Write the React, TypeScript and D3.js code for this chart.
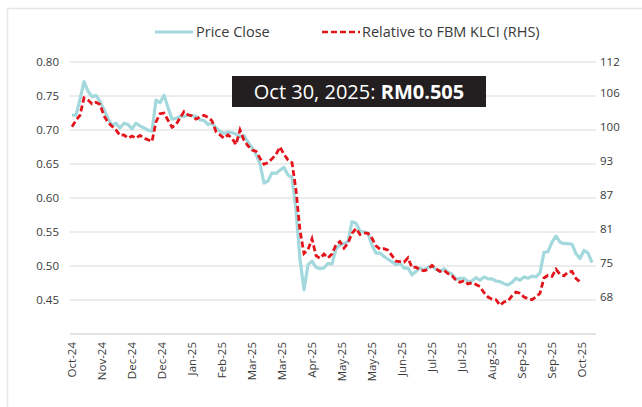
import React from "react";
import * as d3 from "d3";

const W = 642;
const H = 407;

// Price close (LHS), sampled every 2 trading days
const priceClose = [
  0.722, 0.722, 0.745, 0.771, 0.757, 0.749, 0.751, 0.742, 0.730, 0.717,
  0.707, 0.710, 0.703, 0.710, 0.708, 0.702, 0.710, 0.706, 0.703, 0.700,
  0.698, 0.744, 0.740, 0.751, 0.733, 0.716, 0.717, 0.720, 0.720, 0.722,
  0.721, 0.720, 0.715, 0.714, 0.708, 0.710, 0.703, 0.698, 0.695, 0.697,
  0.696, 0.694, 0.690, 0.692, 0.682, 0.674, 0.664, 0.650, 0.622, 0.625,
  0.637, 0.636, 0.641, 0.645, 0.634, 0.630, 0.582, 0.510, 0.465, 0.502,
  0.507, 0.498, 0.496, 0.497, 0.504, 0.503, 0.525, 0.531, 0.533, 0.536,
  0.565, 0.563, 0.551, 0.550, 0.548, 0.530, 0.519, 0.519, 0.514, 0.510,
  0.506, 0.502, 0.504, 0.497, 0.497, 0.487, 0.492, 0.497, 0.494, 0.498,
  0.500, 0.495, 0.492, 0.496, 0.491, 0.488, 0.480, 0.482, 0.482, 0.477,
  0.478, 0.483, 0.479, 0.484, 0.481, 0.481, 0.478, 0.477, 0.474, 0.472,
  0.476, 0.482, 0.479, 0.484, 0.482, 0.485, 0.484, 0.490, 0.520, 0.521,
  0.535, 0.544, 0.535, 0.533, 0.533, 0.532, 0.518, 0.511, 0.523, 0.519,
  0.505,
];

// Relative to FBM KLCI (RHS), sampled every 2 trading days
const relativeKlci = [
  100.1, 101.3, 102.2, 105.4, 105.0, 104.3, 104.6, 104.2, 102.1, 100.9,
  100.2, 99.5, 98.5, 98.6, 98.0, 98.4, 98.0, 98.5, 98.0, 97.7,
  97.4, 101.0, 102.5, 102.6, 101.3, 100.0, 100.5, 101.7, 102.9, 102.3,
  102.1, 101.5, 101.9, 102.2, 101.8, 101.2, 99.2, 98.6, 98.0, 98.6,
  98.0, 96.8, 99.5, 97.6, 96.6, 95.8, 95.6, 94.3, 93.2, 93.5,
  94.2, 95.0, 96.4, 95.0, 94.0, 93.5, 88.5, 81.0, 76.8, 77.5,
  79.5, 76.4, 75.9, 76.7, 76.0, 76.7, 78.4, 79.0, 77.8, 78.7,
  80.5, 81.4, 80.3, 80.6, 80.5, 79.6, 78.2, 77.6, 77.7, 77.4,
  76.4, 75.4, 75.3, 75.2, 76.0, 74.2, 74.3, 73.8, 73.6, 73.9,
  74.6, 74.0, 73.5, 73.7, 73.1, 72.7, 71.9, 71.5, 71.8, 71.2,
  71.4, 71.1, 70.7, 69.6, 68.8, 68.4, 68.3, 67.3, 67.9, 68.1,
  69.0, 69.7, 69.5, 68.8, 68.5, 68.3, 68.8, 69.5, 72.3, 72.8,
  72.6, 73.9, 73.0, 72.7, 73.4, 73.5, 72.2, 71.6,
];

const xTickLabels = [
  "Oct-24", "Nov-24", "Dec-24", "Dec-24", "Jan-25", "Feb-25", "Mar-25", "Mar-25",
  "Apr-25", "May-25", "May-25", "Jun-25", "Jul-25", "Jul-25", "Aug-25", "Sep-25",
  "Sep-25", "Oct-25",
];
const leftTicks = [0.45, 0.5, 0.55, 0.6, 0.65, 0.7, 0.75, 0.8];
const rightTicks = [68.75, 75, 81.25, 87.5, 93.75, 100, 106.25, 112];

const DAYS_PER_SAMPLE = 2;
const DAYS_PER_TICK = 15;

const plot = { left: 70, right: 596, dataLeft: 72, dataRight: 592, top: 62, bottom: 334 };

export default function App() {
  const totalDays = (priceClose.length - 1) * DAYS_PER_SAMPLE;
  const x = d3.scaleLinear().domain([0, totalDays]).range([plot.dataLeft, plot.dataRight]);
  const yL = d3.scaleLinear().domain([0.4, 0.8]).range([plot.bottom, plot.top]);
  const yR = d3.scaleLinear().domain([62, 112]).range([plot.bottom, plot.top]);

  const priceLine = d3
    .line<number>()
    .x((_, i) => x(i * DAYS_PER_SAMPLE))
    .y((d) => yL(d))
    .curve(d3.curveLinear);
  const relLine = d3
    .line<number>()
    .x((_, i) => x(i * DAYS_PER_SAMPLE))
    .y((d) => yR(d))
    .curve(d3.curveLinear);

  const font = "'Open Sans', 'Noto Sans', sans-serif";
  const axisColor = "#3a3a3a";

  return (
    <svg
      width={W}
      height={H}
      style={{ position: "absolute", left: 0, top: 0, background: "#fff" }}
      fontFamily={font}
    >
      <rect x={7.5} y={8.5} width={W} height={H} fill="#fff" stroke="#e6e6e6" strokeWidth={1.5} />

      {/* Legend */}
      <g>
        <line x1={155} x2={193} y1={32} y2={32} stroke="#a3d9dc" strokeWidth={3} />
        <text x={196} y={37} fontSize={14.5} fill={axisColor}>
          Price Close
        </text>
        <line x1={322} x2={360} y1={32} y2={32} stroke="#e3141b" strokeWidth={2.5} strokeDasharray="6 3" />
        <text x={362} y={37} fontSize={14.5} fill={axisColor}>
          Relative to FBM KLCI (RHS)
        </text>
      </g>

      {/* Gridlines */}
      {leftTicks.map((t) => (
        <line key={t} x1={plot.left} x2={plot.right} y1={yL(t)} y2={yL(t)} stroke="#e6e6e6" strokeWidth={1.5} />
      ))}
      <line x1={plot.left} x2={plot.right} y1={yL(0.4)} y2={yL(0.4)} stroke="#d9d9d9" strokeWidth={1.5} />

      {/* Left axis labels */}
      {leftTicks.map((t) => (
        <text key={t} x={59} y={yL(t) + 4} fontSize={11.5} textAnchor="end" fill={axisColor}>
          {d3.format(".2f")(t)}
        </text>
      ))}
      {/* Right axis labels */}
      {rightTicks.map((t) => (
        <text key={t} x={600} y={yR(t) + 4} fontSize={11.5} textAnchor="start" fill={axisColor}>
          {Math.floor(t)}
        </text>
      ))}

      {/* X axis labels */}
      {xTickLabels.map((lab, k) => {
        const px = x(k * DAYS_PER_TICK);
        return (
          <text
            key={k}
            transform={`translate(${px + 4},342) rotate(-90)`}
            fontSize={11.5}
            textAnchor="end"
            fill={axisColor}
          >
            {lab}
          </text>
        );
      })}

      {/* Series */}
      <path d={priceLine(priceClose) || ""} fill="none" stroke="#a3d9dc" strokeWidth={3.2} strokeLinejoin="round" />
      <path
        d={relLine(relativeKlci) || ""}
        fill="none"
        stroke="#e3141b"
        strokeWidth={2.8}
        strokeDasharray="6 3"
      />

      {/* Tooltip box */}
      <rect x={232} y={76} width={254} height={31} fill="#231f20" />
      <text x={359} y={99} fontSize={20} textAnchor="middle" fill="#fff">
        <tspan>Oct 30, 2025: </tspan>
        <tspan fontWeight="bold">RM0.505</tspan>
      </text>
    </svg>
  );
}
